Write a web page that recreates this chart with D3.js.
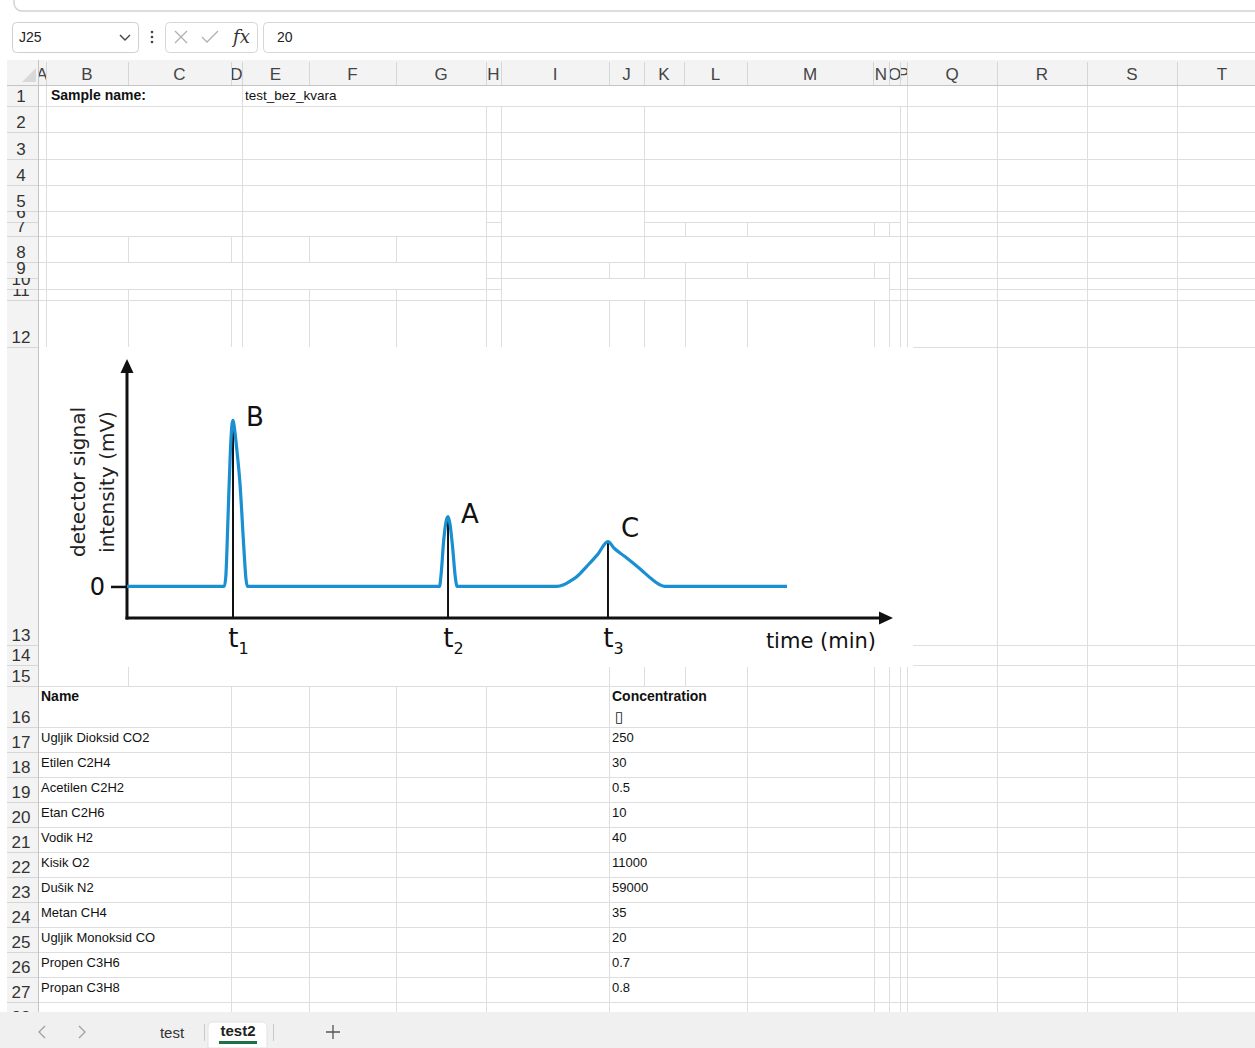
<!DOCTYPE html>
<html>
<head>
<meta charset="utf-8">
<script src="https://cdn.jsdelivr.net/npm/d3@7"></script>
<style>
  body { margin: 0; background: #fff; }
  svg { display: block; }
</style>
</head>
<body>
<script>
// chromatogram, values (time in min, signal in mV)
var peakNames = ["B", "A", "C"];
var retentionTimes = [1.384, 4.191, 6.279];
var peakHeights = [100, 42, 27];
var tickSubscripts = ["1", "2", "3"];
var yTickValues = [0];
var yTickLabels = ["0"];
var signalTimes = [0, 1.27, 1.29, 1.319, 1.35, 1.372, 1.384, 1.398, 1.43, 1.475, 1.527, 1.552, 1.572,
                   4.08, 4.10, 4.135, 4.165, 4.191, 4.215, 4.25, 4.285, 4.31,
                   5.61, 5.70, 5.78, 5.875, 6.0, 6.14, 6.279, 6.36, 6.50, 6.70, 6.85, 6.95, 7.02, 8.616];
var signalValues = [0, 0, 6, 42, 82, 98, 100, 97, 84, 62, 22, 5, 0,
                    0, 7, 28, 39, 42, 38, 24, 6, 0,
                    0, 1, 3, 6, 12, 19, 27, 23, 18, 10.5, 4.5, 1.2, 0, 0];

// sheet contents
var gasNames = ["Ugljik Dioksid CO2", "Etilen C2H4", "Acetilen C2H2", "Etan C2H6", "Vodik H2", "Kisik O2",
                "Dušik N2", "Metan CH4", "Ugljik Monoksid CO", "Propen C3H6", "Propan C3H8"];
var gasConcentrations = ["250", "30", "0.5", "10", "40", "11000", "59000", "35", "20", "0.7", "0.8"];
var columnLetters = "ABCDEFGHIJKLMNOPQRST".split("");
var sampleLabel = "Sample name:";
var sampleName = "test_bez_kvara";

//---- layout of the sheet (pixels) ----
var W = 1255, H = 1048;
var colEdges = [38, 46, 128, 231, 242, 309, 396, 486, 501, 609, 644, 684, 747, 873, 889, 900, 907, 997, 1087, 1177, 1267];
var rowEdges = [85, 106, 132, 159, 185, 211, 222, 236, 262, 278, 289, 300, 347, 645, 665, 686, 727];
for (var r = 1; r <= 12; r++) rowEdges.push(727 + r * 25);
var gridBottom = 1012;
var lineColor = "#dedede";

//vertical cell borders per band of rows (merged cells leave gaps)
var rightCols = [997, 1087, 1177];
var vBands = [
  { y0: 85,  y1: 106,  xs: [46, 242, 907] },
  { y0: 106, y1: 222,  xs: [46, 242, 486, 501, 644, 900, 907] },
  { y0: 222, y1: 236,  xs: [46, 242, 486, 501, 644, 685, 747, 874, 889, 900, 907] },
  { y0: 236, y1: 262,  xs: [46, 128, 231, 242, 309, 396, 486, 501, 644, 900, 907] },
  { y0: 262, y1: 278,  xs: [46, 242, 486, 501, 609, 644, 685, 747, 874, 889, 900, 907] },
  { y0: 278, y1: 289,  xs: [46, 242, 486, 501, 685, 889, 900, 907] },
  { y0: 289, y1: 300,  xs: [46, 128, 231, 242, 309, 396, 486, 501, 685, 889, 900, 907] },
  { y0: 300, y1: 347,  xs: [46, 128, 231, 242, 309, 396, 486, 501, 609, 644, 685, 747, 874, 889, 900, 907] },
  { y0: 347, y1: 665,  xs: [] },
  { y0: 665, y1: 686,  xs: [128, 609, 644, 685, 747, 874, 889, 900, 907] },
  { y0: 686, y1: gridBottom, xs: [231, 309, 396, 486, 609, 747, 874, 889, 900, 907] }
];
//horizontal borders that do not run the full width
var hPartial = {
  222: [[486, 501], [644, 900], [907, W]],
  278: [[486, 889], [907, W]],
  289: [[38, 501], [889, W]],
  347: [[913, W]],
  645: [[913, W]],
  665: [[913, W]]
};

var svg = d3.select("body").append("svg")
    .attr("width", W)
    .attr("height", H)
    .style("font-family", "'Liberation Sans', Arial, sans-serif");
var defs = svg.append("defs");

svg.append("rect").attr("width", W).attr("height", H).attr("fill", "#fff");

//ribbon edge at the top
svg.append("rect")
    .attr("x", 14).attr("y", -30).attr("width", 1300).attr("height", 41).attr("rx", 8)
    .attr("fill", "#fff").attr("stroke", "#d2d2d2").attr("stroke-width", 1.5);

//---- formula bar ----
var fbar = svg.append("g");
fbar.append("rect").attr("x", 12.5).attr("y", 22.5).attr("width", 126).attr("height", 30).attr("rx", 4)
    .attr("fill", "#fff").attr("stroke", "#cfcfcf");
fbar.append("text").attr("x", 19).attr("y", 42).attr("font-size", 14).attr("fill", "#222").text("J25");
fbar.append("path").attr("d", "M120,35 L125,40 L130,35").attr("fill", "none").attr("stroke", "#444").attr("stroke-width", 1.4);
[32, 37, 42].forEach(function(cy) {
  fbar.append("circle").attr("cx", 152).attr("cy", cy).attr("r", 1.3).attr("fill", "#444");
});
fbar.append("rect").attr("x", 165.5).attr("y", 22.5).attr("width", 92).attr("height", 30).attr("rx", 4)
    .attr("fill", "#fff").attr("stroke", "#d6d6d6");
fbar.append("path").attr("d", "M175,31 L187,43 M187,31 L175,43").attr("stroke", "#b0b0b0").attr("stroke-width", 1.3);
fbar.append("path").attr("d", "M202,37 L207,42 L218,31").attr("fill", "none").attr("stroke", "#b0b0b0").attr("stroke-width", 1.3);
fbar.append("text").attr("x", 233).attr("y", 43).attr("font-size", 18).attr("font-style", "italic")
    .attr("font-family", "'DejaVu Serif', 'Liberation Serif', serif").attr("fill", "#333").text("fx");
fbar.append("rect").attr("x", 263.5).attr("y", 22.5).attr("width", 1010).attr("height", 30).attr("rx", 4)
    .attr("fill", "#fff").attr("stroke", "#d6d6d6");
fbar.append("text").attr("x", 277).attr("y", 42).attr("font-size", 14).attr("fill", "#222").text("20");

//---- headers ----
svg.append("rect").attr("x", 7).attr("y", 60).attr("width", W - 7).attr("height", 25).attr("fill", "#f3f3f3");
svg.append("rect").attr("x", 7).attr("y", 60).attr("width", 31).attr("height", gridBottom - 60).attr("fill", "#f3f3f3");
svg.append("path").attr("d", "M22,82 L36,82 L36,68 Z").attr("fill", "#d9d9d9");

columnLetters.forEach(function(letter, i) {
  var cx0 = colEdges[i], cx1 = colEdges[i + 1];
  defs.append("clipPath").attr("id", "col" + i)
    .append("rect").attr("x", cx0).attr("y", 60).attr("width", cx1 - cx0).attr("height", 25);
  svg.append("text")
      .attr("clip-path", "url(#col" + i + ")")
      .attr("x", (cx0 + cx1) / 2).attr("y", 80)
      .attr("text-anchor", "middle").attr("font-size", 17).attr("fill", "#444")
      .text(letter);
});
svg.append("g").selectAll("line")
  .data(colEdges.slice(1))
  .enter()
  .append("line")
    .attr("x1", function(d) { return d + 0.5; }).attr("x2", function(d) { return d + 0.5; })
    .attr("y1", 62).attr("y2", 85)
    .attr("stroke", "#d6d6d6");

//row numbers, clipped to their (sometimes tiny) rows
for (var k = 0; k < rowEdges.length; k++) {
  var rowTop = rowEdges[k];
  var rowBottom = k + 1 < rowEdges.length ? rowEdges[k + 1] : 1027;
  defs.append("clipPath").attr("id", "row" + k)
    .append("rect").attr("x", 7).attr("y", rowTop).attr("width", 31).attr("height", rowBottom - rowTop);
  svg.append("text")
      .attr("clip-path", "url(#row" + k + ")")
      .attr("x", 21).attr("y", rowBottom - 4)
      .attr("text-anchor", "middle").attr("font-size", 17).attr("fill", "#333")
      .text(k + 1);
  svg.append("line")
      .attr("x1", 7).attr("x2", 38).attr("y1", rowBottom + 0.5).attr("y2", rowBottom + 0.5)
      .attr("stroke", "#d6d6d6");
}

//---- cell grid ----
var grid = svg.append("g").attr("stroke", lineColor).attr("shape-rendering", "crispEdges");
vBands.forEach(function(band) {
  band.xs.concat(rightCols).forEach(function(gx) {
    grid.append("line").attr("x1", gx + 0.5).attr("x2", gx + 0.5).attr("y1", band.y0).attr("y2", band.y1);
  });
});
rowEdges.slice(1).forEach(function(gy) {
  var segs = hPartial[gy] || [[38, W]];
  segs.forEach(function(s) {
    grid.append("line").attr("x1", s[0]).attr("x2", s[1]).attr("y1", gy + 0.5).attr("y2", gy + 0.5);
  });
});
svg.append("line").attr("x1", 7).attr("x2", W).attr("y1", 85.5).attr("y2", 85.5).attr("stroke", "#c4c4c4");
svg.append("line").attr("x1", 38.5).attr("x2", 38.5).attr("y1", 60).attr("y2", gridBottom).attr("stroke", "#c4c4c4");

//---- the chromatogram picture ----
var x = d3.scaleLinear().domain([0, 10]).range([127, 893]);
var y = d3.scaleLinear().domain([-19, 137]).range([618, 359]);
var chartFont = "'DejaVu Sans', Verdana, sans-serif";
var chart = svg.append("g").attr("font-family", chartFont);

chart.append("rect").attr("x", 39).attr("y", 347).attr("width", 874).attr("height", 320).attr("fill", "#fff");

var yAxis = d3.axisLeft(y)
  .tickValues(yTickValues)
  .tickFormat(function(d, i) { return yTickLabels[i]; })
  .tickSize(16)
  .tickSizeOuter(0)
  .tickPadding(6);
var yg = chart.append("g").attr("transform", "translate(" + x(0) + ",0)").call(yAxis);
yg.select(".domain").remove();
yg.selectAll(".tick line").attr("stroke", "#111").attr("stroke-width", 2.5);
yg.selectAll(".tick text").attr("font-size", 24).attr("font-family", chartFont).attr("fill", "#111");

var xAxis = d3.axisBottom(x)
  .tickValues(retentionTimes)
  .tickSize(0)
  .tickSizeOuter(0)
  .tickPadding(11)
  .tickFormat(function() { return ""; });
var xg = chart.append("g").attr("transform", "translate(0," + y.range()[0] + ")").call(xAxis);
xg.select(".domain").remove();
xg.selectAll(".tick text")
    .attr("font-size", 26).attr("font-family", chartFont).attr("fill", "#111")
    .attr("text-anchor", "start").attr("x", -5.2)
    .each(function(d, i) {
      var t = d3.select(this);
      t.append("tspan").text("t");
      t.append("tspan").attr("font-size", 16).attr("dy", 7).text(tickSubscripts[i]);
    });

//axis arrows
var ax0 = x(0), yBase = y.range()[0], yTop = y.range()[1], xEnd = x.range()[1];
chart.append("line").attr("x1", ax0).attr("x2", ax0).attr("y1", yBase + 1.5).attr("y2", yTop + 10)
    .attr("stroke", "#111").attr("stroke-width", 3);
chart.append("path").attr("d", "M" + ax0 + "," + yTop + " L" + (ax0 - 6.5) + "," + (yTop + 14) + " L" + (ax0 + 6.5) + "," + (yTop + 14) + " Z")
    .attr("fill", "#111");
chart.append("line").attr("x1", ax0 - 1.5).attr("x2", xEnd - 10).attr("y1", yBase).attr("y2", yBase)
    .attr("stroke", "#111").attr("stroke-width", 3);
chart.append("path").attr("d", "M" + xEnd + "," + yBase + " L" + (xEnd - 14) + "," + (yBase - 6.5) + " L" + (xEnd - 14) + "," + (yBase + 6.5) + " Z")
    .attr("fill", "#111");

//retention time markers
chart.selectAll("line.marker")
  .data(retentionTimes)
  .enter()
  .append("line")
    .attr("class", "marker")
    .attr("x1", function(d) { return x(d); })
    .attr("x2", function(d) { return x(d); })
    .attr("y1", function(d, i) { return y(peakHeights[i]); })
    .attr("y2", yBase)
    .attr("stroke", "#111")
    .attr("stroke-width", 2);

var signalLine = d3.line()
  .x(function(d, i) { return x(signalTimes[i]); })
  .y(function(d) { return y(d); })
  .curve(d3.curveMonotoneX);
chart.append("path")
    .datum(signalValues)
    .attr("d", signalLine)
    .attr("fill", "none")
    .attr("stroke", "#1a8fd2")
    .attr("stroke-width", 3.2)
    .attr("stroke-linejoin", "round");

var labelDy = [6, 6, -5];
chart.selectAll("text.peak")
  .data(peakNames)
  .enter()
  .append("text")
    .attr("class", "peak")
    .attr("x", function(d, i) { return x(retentionTimes[i]) + 13; })
    .attr("y", function(d, i) { return y(peakHeights[i]) + labelDy[i]; })
    .attr("font-size", 26)
    .attr("fill", "#111")
    .text(function(d) { return d; });

chart.append("text")
    .attr("x", xEnd - 17).attr("y", yBase + 30)
    .attr("text-anchor", "end").attr("font-size", 21).attr("fill", "#111")
    .text("time (min)");

[["detector signal", 85], ["intensity (mV)", 114]].forEach(function(l) {
  chart.append("text")
      .attr("transform", "translate(" + l[1] + ",482) rotate(-90)")
      .attr("text-anchor", "middle").attr("font-size", 20).attr("fill", "#222")
      .text(l[0]);
});

//---- cell texts ----
var cells = svg.append("g").attr("font-size", 13).attr("fill", "#111");
cells.append("text").attr("x", 51).attr("y", 100).attr("font-size", 14).attr("font-weight", "bold").text(sampleLabel);
cells.append("text").attr("x", 245).attr("y", 100).attr("font-size", 13.5).text(sampleName);
cells.append("text").attr("x", 41).attr("y", 701).attr("font-size", 14).attr("font-weight", "bold").text("Name");
cells.append("text").attr("x", 612).attr("y", 701).attr("font-size", 14).attr("font-weight", "bold").text("Concentration");
cells.append("text").attr("x", 615).attr("y", 722).attr("font-size", 15).attr("font-weight", "bold")
    .attr("font-family", "'DejaVu Sans', sans-serif").text("\u25AF");

cells.selectAll("text.name")
  .data(gasNames)
  .enter()
  .append("text")
    .attr("class", "name")
    .attr("x", 41)
    .attr("y", function(d, i) { return 727 + i * 25 + 15; })
    .text(function(d) { return d; });
cells.selectAll("text.conc")
  .data(gasConcentrations)
  .enter()
  .append("text")
    .attr("class", "conc")
    .attr("x", 612)
    .attr("y", function(d, i) { return 727 + i * 25 + 15; })
    .text(function(d) { return d; });

//---- sheet tabs ----
var tabs = svg.append("g");
tabs.append("rect").attr("x", 0).attr("y", gridBottom).attr("width", W).attr("height", H - gridBottom).attr("fill", "#f0f0f0");
tabs.append("path").attr("d", "M45,1026 L39,1032 L45,1038").attr("fill", "none").attr("stroke", "#a0a0a0").attr("stroke-width", 1.3);
tabs.append("path").attr("d", "M79,1026 L85,1032 L79,1038").attr("fill", "none").attr("stroke", "#a0a0a0").attr("stroke-width", 1.3);
tabs.append("text").attr("x", 172).attr("y", 1038).attr("text-anchor", "middle").attr("font-size", 15).attr("fill", "#333").text("test");
tabs.append("line").attr("x1", 204.5).attr("x2", 204.5).attr("y1", 1024).attr("y2", 1041).attr("stroke", "#c8c8c8");
tabs.append("path").attr("d", "M208,1048 L208,1027 Q208,1022 213,1022 L262,1022 Q267,1022 267,1027 L267,1048 Z")
    .attr("fill", "#fff").attr("stroke", "#e2e2e2");
tabs.append("text").attr("x", 238).attr("y", 1036).attr("text-anchor", "middle").attr("font-size", 15)
    .attr("font-weight", "bold").attr("fill", "#222").text("test2");
tabs.append("rect").attr("x", 219).attr("y", 1041).attr("width", 38).attr("height", 3).attr("fill", "#1e7145");
tabs.append("line").attr("x1", 273.5).attr("x2", 273.5).attr("y1", 1024).attr("y2", 1041).attr("stroke", "#c8c8c8");
tabs.append("path").attr("d", "M326,1032 L340,1032 M333,1025 L333,1039").attr("stroke", "#555").attr("stroke-width", 1.3);
</script>
</body>
</html>
